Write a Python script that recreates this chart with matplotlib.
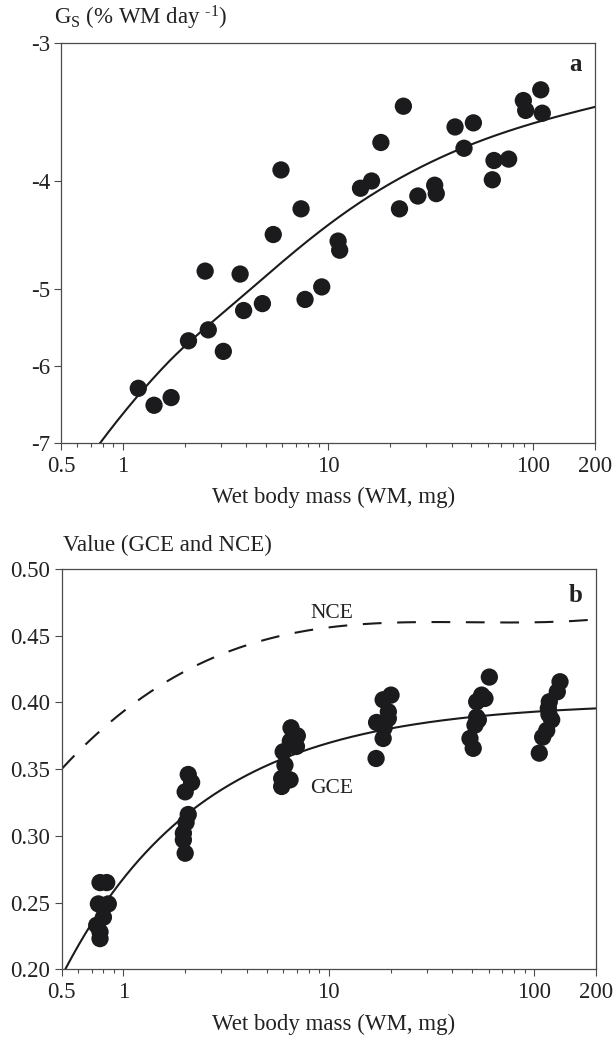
import numpy as np
import matplotlib
matplotlib.use("Agg")
import matplotlib.pyplot as plt
from matplotlib.ticker import FixedLocator, FixedFormatter, NullFormatter

plt.rcParams['font.family'] = ['Liberation Serif', 'DejaVu Serif']
plt.rcParams['mathtext.fontset'] = 'custom'
plt.rcParams['mathtext.rm'] = 'Liberation Serif'
plt.rcParams['mathtext.it'] = 'Liberation Serif:italic'
plt.rcParams['axes.unicode_minus'] = False

# ---------------- Panel a: Gs vs wet body mass ----------------
gs_mass = [1.19, 1.42, 1.72, 2.09, 2.52, 2.61, 3.09, 3.73, 3.88, 4.79,
           5.41, 5.90, 7.39, 7.73, 9.32, 11.2, 11.4, 14.4, 16.3, 18.1,
           22.3, 23.3, 27.4, 33.1, 33.7, 41.6, 46.0, 51.1, 63.2, 64.4,
           75.9, 89.5, 91.9, 108.8, 110.7]
gs_value = [-6.29, -6.51, -6.41, -5.66, -4.81, -5.51, -5.805, -4.84, -5.256, -5.17,
            -4.46, -3.91, -4.234, -5.12, -4.977, -4.52, -4.605, -4.06, -4.00, -3.696,
            -4.234, -3.43, -4.125, -4.035, -4.105, -3.58, -3.74, -3.55, -3.99, -3.835,
            -3.824, -3.39, -3.46, -3.315, -3.48]
# fitted curve: Gs = c3*L^3 + c2*L^2 + c1*L + c0, L = log10(WM)
gs_fit_coef = [0.1659, -1.2096, 3.290, -6.622]

# irregular y axis of the original: tick values and their relative spacing
gs_ticks = [-7, -6, -5, -4, -3]
gs_tick_spacing = [0, 77, 154, 262, 400]

# ---------------- Panel b: GCE / NCE ----------------
gce_mass = [0.77, 0.83, 0.756, 0.845, 0.80, 0.742, 0.77, 0.77,
            2.07, 2.15, 2.00, 2.07, 2.02, 1.96, 1.96, 2.00,
            6.55, 7.03, 6.50, 6.96, 6.00, 6.12, 5.90, 6.48, 5.90,
            20.1, 18.4, 19.5, 19.5, 17.1, 18.6, 18.4, 17.0,
            60.5, 55.5, 57.6, 52.5, 52.5, 53.5, 51.5, 48.7, 50.5,
            133.6, 129.6, 118.5, 117.2, 118.0, 121.7, 115.1, 110.0, 105.9]
gce_value = [0.265, 0.265, 0.249, 0.249, 0.239, 0.233, 0.228, 0.223,
             0.346, 0.340, 0.333, 0.316, 0.310, 0.302, 0.297, 0.287,
             0.381, 0.375, 0.371, 0.367, 0.363, 0.353, 0.343, 0.342, 0.337,
             0.4055, 0.402, 0.393, 0.388, 0.385, 0.381, 0.373, 0.358,
             0.419, 0.4055, 0.403, 0.4005, 0.389, 0.387, 0.383, 0.373, 0.3656,
             0.4155, 0.408, 0.4005, 0.3956, 0.391, 0.387, 0.379, 0.374, 0.362]
# GCE fit: A - B*exp(-k*L)
gce_fit = (0.400, 0.132, 1.47)
# NCE fit: cubic in L
nce_fit_coef = [0.01409, -0.07186, 0.12076, 0.39324]

x_major = [0.5, 1, 10, 100, 200]
x_major_labels = ['0.5', '1', '10', '100', '200']
x_minor = [0.6, 0.7, 0.8, 0.9, 2, 3, 4, 5, 6, 7, 8, 9, 20, 30, 40, 50, 60, 70, 80, 90]
b_yticks = [0.20, 0.25, 0.30, 0.35, 0.40, 0.45, 0.50]

# ---------------- scale for irregular axis (monotone cubic) ----------------
tv = np.array(gs_ticks, float)
tp = np.array(gs_tick_spacing, float)


def _pchip_slopes(x, y):
    h = np.diff(x)
    d = np.diff(y) / h
    m = np.zeros_like(y)
    for k in range(1, len(x) - 1):
        if d[k - 1] * d[k] > 0:
            w1 = 2 * h[k] + h[k - 1]
            w2 = h[k] + 2 * h[k - 1]
            m[k] = (w1 + w2) / (w1 / d[k - 1] + w2 / d[k])
    m[0] = ((2 * h[0] + h[1]) * d[0] - h[0] * d[1]) / (h[0] + h[1])
    m[-1] = ((2 * h[-1] + h[-2]) * d[-1] - h[-1] * d[-2]) / (h[-1] + h[-2])
    return m


_m = _pchip_slopes(tv, tp)


def _fwd(v):
    v = np.asarray(v, float)
    i = np.clip(np.searchsorted(tv, v) - 1, 0, len(tv) - 2)
    h = tv[i + 1] - tv[i]
    t = (v - tv[i]) / h
    h00 = 2 * t**3 - 3 * t**2 + 1
    h10 = t**3 - 2 * t**2 + t
    h01 = -2 * t**3 + 3 * t**2
    h11 = t**3 - t**2
    return h00 * tp[i] + h10 * h * _m[i] + h01 * tp[i + 1] + h11 * h * _m[i + 1]


_grid = np.linspace(-7.6, -2.4, 4001)
_gpos = _fwd(_grid)


def _inv(p):
    return np.interp(np.asarray(p, float), _gpos, _grid)


# ---------------- figure ----------------
W, H = 616, 1038
fig = plt.figure(figsize=(W / 100, H / 100), dpi=100)
ink = '#1b1b1d'
spine_c = '#4a4a4a'
txt_c = '#222222'
tick_fs = 16.5
lab_fs = 16.5
dot_s = 155

ax1 = fig.add_axes([61 / W, 1 - 443 / H, 534 / W, 400 / H])
ax2 = fig.add_axes([61.5 / W, 1 - 969.3 / H, 534.5 / W, 400.3 / H])

for ax in (ax1, ax2):
    ax.set_xscale('log')
    ax.set_xlim(0.5, 200)
    ax.xaxis.set_major_locator(FixedLocator(x_major))
    ax.xaxis.set_major_formatter(FixedFormatter(x_major_labels))
    ax.xaxis.set_minor_locator(FixedLocator(x_minor))
    ax.xaxis.set_minor_formatter(NullFormatter())
    for s in ax.spines.values():
        s.set_color(spine_c)
        s.set_linewidth(0.9)
    ax.tick_params(which='major', direction='out', length=5, width=0.8,
                   color=spine_c, labelsize=tick_fs, labelcolor=txt_c, pad=3)
    ax.tick_params(which='minor', direction='out', length=3.2, width=0.8, color=spine_c)
    ax.tick_params(axis='x', which='major', pad=4)

# panel a
ax1.set_yscale('function', functions=(_fwd, _inv))
ax1.set_ylim(-7, -3)
ax1.yaxis.set_major_locator(FixedLocator(gs_ticks))
ax1.yaxis.set_major_formatter(FixedFormatter([str(t) for t in gs_ticks]))
ax1.yaxis.set_minor_locator(FixedLocator([]))
ax1.scatter(gs_mass, gs_value, s=dot_s, color=ink, edgecolors='none', zorder=3)
xf = np.logspace(np.log10(0.7), np.log10(200), 400)
ax1.plot(xf, np.polyval(gs_fit_coef, np.log10(xf)), color=ink, lw=1.5, zorder=2)

# panel b
ax2.set_ylim(0.20, 0.50)
ax2.yaxis.set_major_locator(FixedLocator(b_yticks))
ax2.yaxis.set_major_formatter(FixedFormatter(['%.2f' % v for v in b_yticks]))
ax2.scatter(gce_mass, gce_value, s=dot_s, color=ink, edgecolors='none', zorder=3)
xb = np.logspace(np.log10(0.5), np.log10(200), 400)
Lb = np.log10(xb)
A, B, k = gce_fit
ax2.plot(xb, A - B * np.exp(-k * Lb), color=ink, lw=1.5, zorder=2)
ax2.plot(xb, np.polyval(nce_fit_coef, Lb), color=ink, lw=1.5,
         dashes=(9.0, 7.5), zorder=2)


def fx(px):
    return px / W


def fy(py):
    return 1 - py / H


# labels
try:
    t = fig.text(fx(54), fy(25), r'G$_{\mathrm{S}}$ (% WM day $^{\text{-1}}$)',
                 fontsize=lab_fs, color=txt_c, ha='left', va='baseline')
    fig.canvas.draw()
except Exception:
    t.remove()
    fig.text(fx(54), fy(25), r'G$_{\mathrm{S}}$ (% WM day $^{\mathrm{-1}}$)',
             fontsize=lab_fs, color=txt_c, ha='left', va='baseline')
fig.text(fx(63), fy(551), 'Value (GCE and NCE)',
         fontsize=lab_fs, color=txt_c, ha='left', va='baseline')
fig.text(fx(334), fy(1030 - 526.6), 'Wet body mass (WM, mg)',
         fontsize=lab_fs, color=txt_c, ha='center', va='baseline')
fig.text(fx(334), fy(1030), 'Wet body mass (WM, mg)',
         fontsize=lab_fs, color=txt_c, ha='center', va='baseline')
fig.text(fx(576), fy(70.7), 'a', fontsize=18, fontweight='bold', color=txt_c,
         ha='center', va='baseline')
fig.text(fx(576), fy(601.7), 'b', fontsize=18, fontweight='bold', color=txt_c,
         ha='center', va='baseline')
fig.text(fx(331.7), fy(617.7), 'NCE', fontsize=15.5, color=txt_c,
         ha='center', va='baseline')
fig.text(fx(331.7), fy(793.3), 'GCE', fontsize=15.5, color=txt_c,
         ha='center', va='baseline')

fig.savefig('out.png', dpi=100, facecolor='white')
